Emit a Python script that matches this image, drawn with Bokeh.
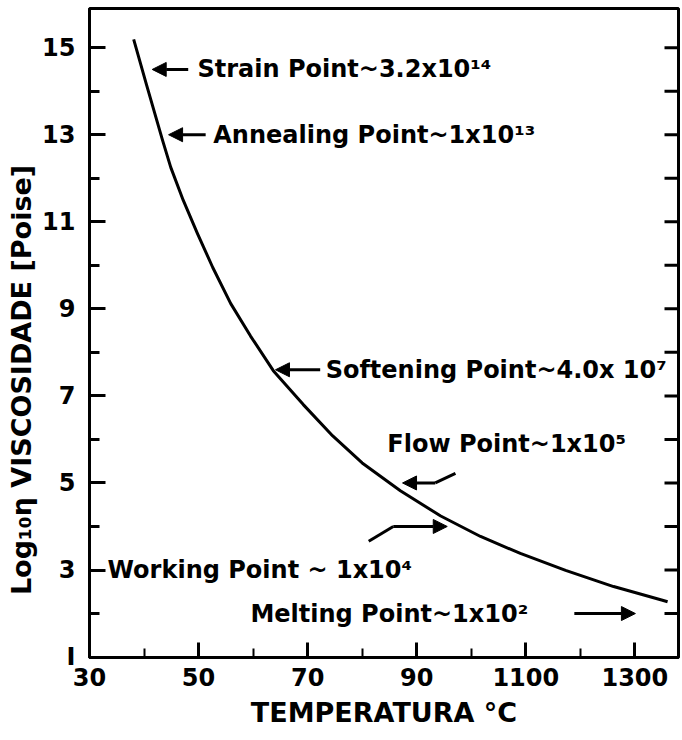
import numpy as np
from bokeh.plotting import figure
from bokeh.models import (Range1d, FixedTicker, LinearAxis, Arrow, NormalHead,
                          ColumnDataSource)
from bokeh.core.properties import value
from bokeh.embed import file_html
from bokeh.resources import INLINE

# ---- data ----
temperature = [381, 405, 434, 449, 472, 498, 526, 559, 595, 637, 692, 746,
               800, 870, 944, 1017, 1090, 1173, 1261, 1349, 1360]
log_viscosity = [15.19, 14.13, 12.87, 12.25, 11.49, 10.73, 9.95, 9.12, 8.38,
                 7.58, 6.80, 6.08, 5.46, 4.82, 4.24, 3.77, 3.38, 2.99, 2.62,
                 2.31, 2.27]

x_ticks = [300, 500, 700, 900, 1100, 1300]
x_tick_labels = ["30", "50", "70", "90", "1100", "1300"]
x_minor_ticks = [400, 600, 800, 1000, 1200]
y_ticks = [1, 3, 5, 7, 9, 11, 13, 15]
y_tick_labels = ["I", "3", "5", "7", "9", "11", "13", "15"]
y_minor_ticks = [2, 4, 6, 8, 10, 12, 14]
right_ticks = list(range(2, 16))

point_texts = ["Strain Point~3.2x10\u00b9\u2074",
               "Annealing Point~1x10\u00b9\u00b3",
               "Softening Point~4.0x 10\u2077",
               "Flow Point~1x10\u2075",
               "Working Point ~  1x10\u2074",
               "Melting Point~1x10\u00b2"]
point_log = [14.5, 13.0, 7.6, 5.0, 4.0, 2.0]

# annotation placement (positions, not data)
text_x = [498, 527, 733, 846, 333, 595]
text_y = [14.5, 13.0, 7.6, 5.9, 3.0, 2.0]
arrow_x_start = [481, 513, 723, 934, 857, 1189]
arrow_x_end = [415, 445, 641, 874, 956, 1301]
bend_xs = [[971, 934], [812, 857]]
bend_ys = [[5.22, 5.0], [3.66, 4.0]]

FONT = "DejaVu Sans"
X_START, X_END = 300, 1380

p = figure(width=682, height=740,
           x_range=Range1d(X_START, X_END), y_range=Range1d(0.99, 15.9),
           min_border_left=89, min_border_right=4, min_border_top=8,
           min_border_bottom=83,
           output_backend="svg", toolbar_location=None,
           x_axis_type=None, y_axis_type=None)
p.background_fill_color = "white"
p.border_fill_color = "white"
p.outline_line_color = "black"
p.outline_line_width = 3
p.xgrid.visible = False
p.ygrid.visible = False

# bottom axis
xa = LinearAxis(ticker=FixedTicker(ticks=x_ticks, minor_ticks=x_minor_ticks))
xa.major_label_overrides = {t: l for t, l in zip(x_ticks, x_tick_labels)}
xa.axis_label = "TEMPERATURA \u00b0C"
xa.axis_line_width = 3
xa.major_tick_in = 15
xa.major_tick_out = 0
xa.minor_tick_in = 9
xa.minor_tick_out = 0
xa.major_tick_line_width = 3
xa.minor_tick_line_width = 2
xa.major_label_standoff = 10
xa.major_label_text_font = FONT
xa.major_label_text_font_style = "bold"
xa.major_label_text_font_size = "24px"
xa.major_label_text_color = "black"
xa.axis_label_text_font = FONT
xa.axis_label_text_font_style = "bold"
xa.axis_label_text_font_size = "27px"
xa.axis_label_text_color = "black"
xa.axis_label_standoff = 8
p.add_layout(xa, "below")

# left axis
ya = LinearAxis(ticker=FixedTicker(ticks=y_ticks, minor_ticks=y_minor_ticks))
ya.major_label_overrides = {t: l for t, l in zip(y_ticks, y_tick_labels)}
ya.axis_label = "Log\u2081\u2080\u03b7 VISCOSIDADE [Poise]" + "\u00a0" * 10
ya.axis_line_width = 3
ya.major_tick_in = 16
ya.major_tick_out = 0
ya.minor_tick_in = 10
ya.minor_tick_out = 0
ya.major_tick_line_width = 3
ya.minor_tick_line_width = 3
ya.major_label_standoff = 14
ya.major_label_text_font = FONT
ya.major_label_text_font_style = "bold"
ya.major_label_text_font_size = "24px"
ya.major_label_text_color = "black"
ya.axis_label_text_font = FONT
ya.axis_label_text_font_style = "bold"
ya.axis_label_text_font_size = "27px"
ya.axis_label_text_color = "black"
ya.axis_label_standoff = 2
p.add_layout(ya, "left")

# right-hand frame ticks (pointing inward)
p.ray(x=[X_END] * len(right_ticks), y=right_ticks, length=14,
      length_units="screen", angle=np.pi, line_color="black", line_width=3)

# viscosity curve
p.line(temperature, log_viscosity, line_color="black", line_width=3,
       line_join="round")

# arrows
asrc = ColumnDataSource(dict(x0=arrow_x_start, x1=arrow_x_end,
                             y0=point_log, y1=point_log))
p.add_layout(Arrow(source=asrc, x_start="x0", y_start="y0", x_end="x1", y_end="y1",
                   line_color="black", line_width=3,
                   end=NormalHead(size=14, fill_color="black", line_color="black",
                                  line_width=1)))
p.multi_line(bend_xs, bend_ys, line_color="black", line_width=3)

# texts
tsrc = ColumnDataSource(dict(x=text_x, y=text_y, t=point_texts))
p.text(x="x", y="y", text="t", source=tsrc, text_font=value(FONT),
       text_font_style="bold", text_font_size="24px", text_color="black",
       text_align="left", text_baseline="middle")

open("out.html", "w").write(file_html(p, INLINE))
